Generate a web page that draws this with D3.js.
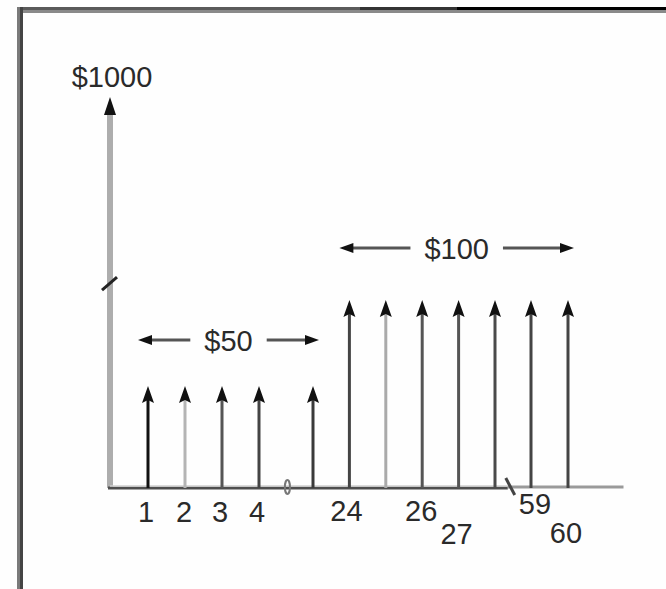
<!DOCTYPE html>
<html><head><meta charset="utf-8">
<script src="https://cdn.jsdelivr.net/npm/d3@7"></script>
<style>html,body{margin:0;padding:0;background:#fff;} svg{display:block}</style>
</head><body>
<svg id="c" width="666" height="589"></svg>
<script>
// ---- data ----
const periods50 = [1, 2, 3, 4, 23];
const values50 = [50, 50, 50, 50, 50];
const periods100 = [24, 25, 26, 27, 28, 59, 60];
const values100 = [100, 100, 100, 100, 100, 100, 100];
const tickPeriods = [1, 2, 3, 4, 24, 26, 27, 59, 60];
const tickLabels = ["1", "2", "3", "4", "24", "26", "27", "59", "60"];
const groupLabels = ["$50", "$100"];
const groupFrom = [1, 24];
const groupTo = [23, 60];
const groupValues = [50, 100];
const axisTopLabel = "$1000";
const axisTopValue = 1000;
const breakPeriods = [14, 39];
const axisBreakValue = 175;

// ---- layout / style ----
const shades50 = ["#111", "#b4b4b4", "#555", "#444", "#3a3a3a"];
const shades100 = ["#444", "#aaa", "#555", "#555", "#4a4a4a", "#444", "#444"];
const labelDx = {"1": -2, "2": -1, "3": -2, "4": -2, "24": -3, "26": -1, "27": -2, "59": 4, "60": -2};
const labelDy = {"27": 22, "60": 21, "59": -8, "24": -1, "26": -1};
const annDy = [-46, -52];
const FONT = "'Liberation Sans', Arial, Helvetica, sans-serif";

const svg = d3.select("#c");
svg.append("rect").attr("width", 666).attr("height", 589).attr("fill", "#fefefe");

const x = d3.scaleLinear().domain([0, 1, 4, 23, 28, 59, 60]).range([111, 148, 259, 313, 495, 531, 568]);
const y = d3.scaleLinear().domain([0, 50, 100, 1000]).range([488, 386, 300, 97]);
const xEnd = 61.5;

// frame
svg.append("rect").attr("x", 17).attr("y", 10).attr("width", 649).attr("height", 3).attr("fill", "#8a8a8a");
svg.append("rect").attr("x", 17).attr("y", 7).attr("width", 343).attr("height", 3).attr("fill", "#5a5a5a");
svg.append("rect").attr("x", 360).attr("y", 7).attr("width", 97).attr("height", 3).attr("fill", "#333");
svg.append("rect").attr("x", 457).attr("y", 7).attr("width", 209).attr("height", 3).attr("fill", "#000");
svg.append("rect").attr("x", 17).attr("y", 7).attr("width", 3).attr("height", 582).attr("fill", "#7a7a7a");
svg.append("rect").attr("x", 20).attr("y", 7).attr("width", 3).attr("height", 582).attr("fill", "#444");

// y axis
const x0 = x(0) - 1;
svg.append("line").attr("x1", x0).attr("x2", x0).attr("y1", y(0)).attr("y2", y(axisTopValue) + 14)
  .attr("stroke", "#adadad").attr("stroke-width", 6);
svg.append("path").attr("d", `M${x0},${y(axisTopValue)} L${x0 + 6},${y(axisTopValue) + 18} L${x0 - 6},${y(axisTopValue) + 18} Z`).attr("fill", "#111");
const yb = y(axisBreakValue);
svg.append("line").attr("x1", x0 - 8).attr("y1", yb + 7).attr("x2", x0 + 7).attr("y2", yb - 6)
  .attr("stroke", "#222").attr("stroke-width", 3);
svg.append("text").attr("x", x0 + 2).attr("y", 87).attr("text-anchor", "middle")
  .attr("font-family", FONT).attr("font-size", 29).attr("fill", "#2a2a2a").text(axisTopLabel);

// baseline
svg.append("line").attr("x1", x0 - 2).attr("x2", x(breakPeriods[1])).attr("y1", y(0)).attr("y2", y(0))
  .attr("stroke", "#4e4e4e").attr("stroke-width", 3);
svg.append("line").attr("x1", x0).attr("x2", x(breakPeriods[1])).attr("y1", y(0) - 2).attr("y2", y(0) - 2)
  .attr("stroke", "#d0d0d0").attr("stroke-width", 1.5);
svg.append("line").attr("x1", x(breakPeriods[1])).attr("x2", x(xEnd)).attr("y1", y(0) - 1).attr("y2", y(0) - 1)
  .attr("stroke", "#9a9a9a").attr("stroke-width", 3);
// break marks on baseline
svg.append("ellipse").attr("cx", x(breakPeriods[0])).attr("cy", y(0) - 1).attr("rx", 2.5).attr("ry", 7)
  .attr("fill", "none").attr("stroke", "#777").attr("stroke-width", 2);
const xb2 = x(breakPeriods[1]);
svg.append("line").attr("x1", xb2 - 2).attr("y1", y(0) - 10).attr("x2", xb2 + 7).attr("y2", y(0) + 7)
  .attr("stroke", "#444").attr("stroke-width", 3);

// cash flow arrows
function arrows(periods, values, shades) {
  const g = svg.append("g");
  g.selectAll("line").data(periods).join("line")
    .attr("x1", d => x(d)).attr("x2", d => x(d))
    .attr("y1", y(0)).attr("y2", (d, i) => y(values[i]) + 12)
    .attr("stroke", (d, i) => shades[i]).attr("stroke-width", 3);
  g.selectAll("path").data(periods).join("path")
    .attr("d", (d, i) => {
      const cx = x(d), t = y(values[i]);
      return `M${cx},${t} L${cx + 6},${t + 17} L${cx},${t + 14} L${cx - 6},${t + 17} Z`;
    })
    .attr("fill", "#111");
}
arrows(periods50, values50, shades50);
arrows(periods100, values100, shades100);

// tick labels
svg.append("g").selectAll("text").data(tickPeriods).join("text")
  .attr("x", (d, i) => x(d) + (labelDx[tickLabels[i]] || 0))
  .attr("y", (d, i) => 522 + (labelDy[tickLabels[i]] || 0))
  .attr("text-anchor", "middle").attr("font-family", FONT).attr("font-size", 29).attr("fill", "#2a2a2a")
  .text((d, i) => tickLabels[i]);

// group annotations
groupLabels.forEach((lab, i) => {
  const ly = y(groupValues[i]) + annDy[i];
  const left = x(groupFrom[i]) - 10, right = x(groupTo[i]) + 6;
  const cx = (left + right) / 2;
  const t = svg.append("text").attr("x", cx).attr("y", ly + 11).attr("text-anchor", "middle")
    .attr("font-family", FONT).attr("font-size", 29).attr("fill", "#2a2a2a").text(lab);
  const w = t.node().getComputedTextLength();
  const gap = 14;
  svg.append("line").attr("x1", left + 8).attr("x2", cx - w / 2 - gap).attr("y1", ly).attr("y2", ly)
    .attr("stroke", "#555").attr("stroke-width", 3);
  svg.append("line").attr("x1", cx + w / 2 + gap).attr("x2", right - 8).attr("y1", ly).attr("y2", ly)
    .attr("stroke", "#555").attr("stroke-width", 3);
  svg.append("path").attr("d", `M${left},${ly} L${left + 14},${ly - 5} L${left + 14},${ly + 5} Z`).attr("fill", "#111");
  svg.append("path").attr("d", `M${right},${ly} L${right - 14},${ly - 5} L${right - 14},${ly + 5} Z`).attr("fill", "#111");
});
</script>
</body></html>
